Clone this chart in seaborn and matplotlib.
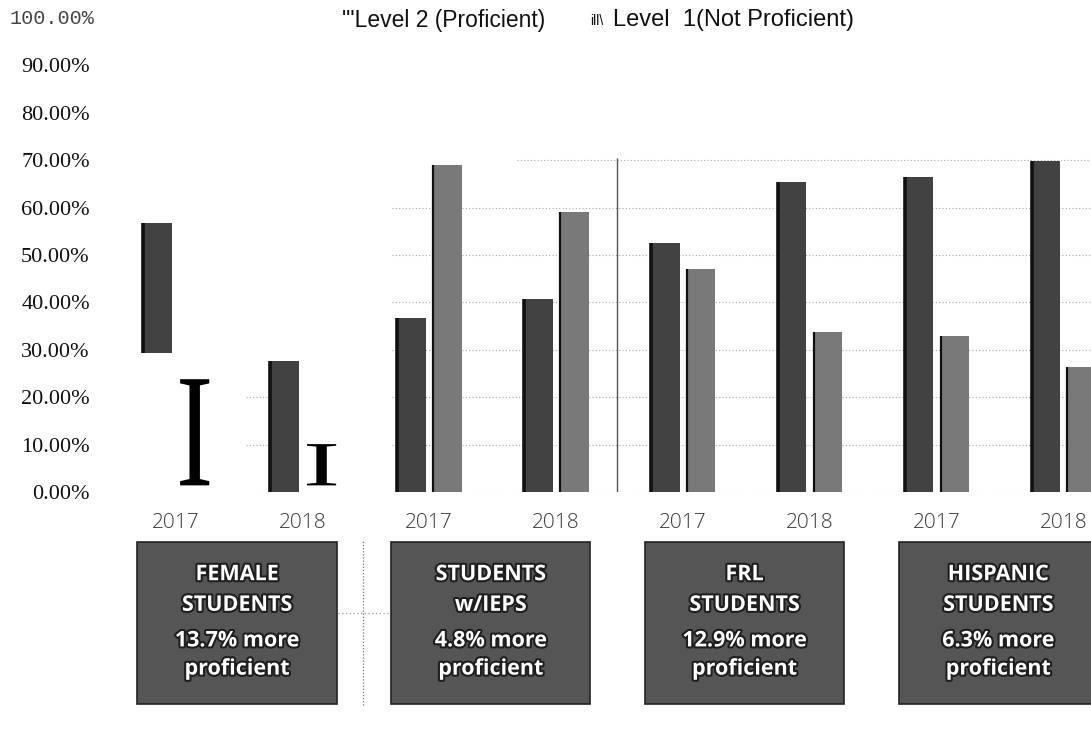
import numpy as np
import pandas as pd
import seaborn as sns
import matplotlib.pyplot as plt
import matplotlib.patheffects as pe
from matplotlib.textpath import TextPath
from matplotlib.font_manager import FontProperties
from matplotlib.patches import PathPatch, Rectangle
from matplotlib.transforms import Affine2D, blended_transform_factory

# ---- data -------------------------------------------------------------
years = ["2017", "2018"]
groups = ["FEMALE\nSTUDENTS", "STUDENTS\nw/IEPS", "FRL\nSTUDENTS", "HISPANIC\nSTUDENTS"]
notes = ["13.7% more\nproficient", "4.8% more\nproficient",
         "12.9% more\nproficient", "6.3% more\nproficient"]
levels = ["Level 2", "Level 1"]
level2 = [56.8, 27.6, 36.7, 40.7, 52.5, 65.4, 66.5, 69.8]
level1 = [23.8, 10.1, 69.0, 59.1, 47.0, 33.8, 32.9, 26.4]
female_2017_floor = 29.3          # lower edge of the 2017 female Level 2 bar
ytick_vals = [0, 10, 20, 30, 40, 50, 60, 70, 80, 90, 100]
ytick_text = [f"{v:.2f}%" for v in ytick_vals]

slots = list(range(len(level2)))
df = pd.DataFrame({
    "slot": slots * 2,
    "value": level2 + level1,
    "level": [levels[0]] * len(slots) + [levels[1]] * len(slots),
})

# ---- figure -----------------------------------------------------------
sns.set_theme(style="white")
W, H = 1091, 732
fig = plt.figure(figsize=(W / 100, H / 100), dpi=100)
ax = fig.add_axes([112 / W, (H - 492) / H, 1015 / W, 474 / H])

c_l2, c_l1 = "#424242", "#797979"
sns.barplot(data=df, x="slot", y="value", hue="level", hue_order=levels,
            palette={levels[0]: c_l2, levels[1]: c_l1}, width=0.567, gap=0.19,
            legend=False, ax=ax, linewidth=0, saturation=1)

ax.set_xlim(-0.5, 7.5)
ax.set_ylim(0, 100)
for s in ax.spines.values():
    s.set_visible(False)

# dotted background guides
grid_kw = dict(colors="#a8a8a8", linestyles=(0, (1, 2)), linewidth=0.8, zorder=0)
ax.hlines([0, 10, 20, 30, 40, 50, 60], 1.71, 7.6, **grid_kw)
ax.hlines([70], 2.69, 7.6, **grid_kw)
ax.hlines([10, 20], 0.56, 0.75, **grid_kw)
ax.hlines([0], 0.58, 1.05, **grid_kw)
ax.vlines(3.48, 0, 70.5, colors="#555555", linewidth=1.0, zorder=0)

# bars: sort each container by position
bars_l2 = sorted(ax.containers[0].patches, key=lambda p: p.get_x())
bars_l1 = sorted(ax.containers[1].patches, key=lambda p: p.get_x())

# 2017 female Level 2 bar starts above the axis
p = bars_l2[0]
p.set_y(female_2017_floor)
p.set_height(level2[0] - female_2017_floor)

# female Level 1 values drawn as serif "I" marks instead of bars
glyph = TextPath((0, 0), "I", size=100, prop=FontProperties(family="Liberation Serif"))
gext = glyph.get_extents()
for b, val in zip(bars_l1[:2], level1[:2]):
    b.set_visible(False)
    x0, x1 = b.get_x() + 0.01, b.get_x() + b.get_width() + 0.01
    y0, y1 = 1.4, val
    tr = (Affine2D().translate(-gext.x0, -gext.y0)
          .scale((x1 - x0) / gext.width, (y1 - y0) / gext.height)
          .translate(x0, y0))
    ax.add_patch(PathPatch(tr.transform_path(glyph), facecolor="black",
                           edgecolor="none", zorder=4))

# darker left edge on each visible bar
for bars, lw in ((bars_l2, 2.6), (bars_l1, 1.6)):
    for b in bars:
        if not b.get_visible():
            continue
        ax.vlines(b.get_x() + 0.004, b.get_y(), b.get_y() + b.get_height(),
                  colors="#111111", linewidth=lw, zorder=3)

# y ticks (the 100% label is set in a monospaced face, placed by hand)
ax.set_yticks(ytick_vals)
ax.set_yticklabels(ytick_text[:-1] + [""])
ax.tick_params(axis="y", length=0, pad=16)
for t in ax.get_yticklabels():
    t.set_fontfamily("Liberation Serif")
    t.set_fontsize(16)
    t.set_color("#111111")
fig.text(94 / W, 1 - 18 / H, ytick_text[-1], family="Liberation Mono",
         fontsize=14.5, color="#444444", ha="right", va="center")

# x ticks: years under each pair
ax.set_xticks(slots)
ax.set_xticklabels(years * len(groups))
ax.tick_params(axis="x", length=0, pad=15)
for t in ax.get_xticklabels():
    t.set_fontfamily("Open Sans")
    t.set_fontsize(15)
    t.set_fontweight("light")
    t.set_color("#3a3a3a")
ax.set_xlabel("")
ax.set_ylabel("")

# legend line at the top
fig.text(342 / W, 1 - 20 / H, "\"'Level 2 (Proficient)", family="Liberation Sans",
         fontsize=16.5, va="center", ha="left", color="#111111")
fig.text(590 / W, 1 - 21 / H, "ill\\", family="Liberation Sans",
         fontsize=10, va="center", ha="left", color="#111111")
fig.text(613 / W, 1 - 20 / H, "Level  1(Not Proficient)", family="Liberation Sans",
         fontsize=17, va="center", ha="left", color="#111111")

# caption boxes under each group
bt = blended_transform_factory(ax.transData, fig.transFigure)
box_top, box_bot = 542, 704
for i, (g, n) in enumerate(zip(groups, notes)):
    xl = 2 * i - 0.3
    xr = 2 * i + 1 + 0.27
    ax.add_patch(Rectangle((xl, 1 - box_bot / H), xr - xl, (box_bot - box_top) / H,
                           transform=bt, facecolor="#555555", edgecolor="#222222",
                           linewidth=1.2, clip_on=False, zorder=5))
    xc = (xl + xr) / 2
    halo = [pe.withStroke(linewidth=3, foreground="#1e1e1e")]
    ax.text(xc, 1 - 590 / H, g, transform=bt, ha="center", va="center",
            family="Open Sans", fontweight="bold", fontsize=15.5, color="white",
            linespacing=1.6, path_effects=halo, zorder=6, clip_on=False)
    ax.text(xc, 1 - 655 / H, n, transform=bt, ha="center", va="center",
            family="Open Sans", fontweight="bold", fontsize=15.5, color="white",
            linespacing=1.45, path_effects=halo, zorder=6, clip_on=False)

# thin dotted separators between the first two boxes
ax.vlines(1.48, 1 - 705 / H, 1 - 540 / H, transform=bt, colors="#777777",
          linestyles=(0, (1, 1.5)), linewidth=0.9, clip_on=False)
ax.hlines(1 - 613 / H, 1.28, 1.675, transform=bt, colors="#999999",
          linestyles=(0, (1, 2)), linewidth=0.9, clip_on=False)

fig.savefig("out.png", dpi=100, facecolor="white")
